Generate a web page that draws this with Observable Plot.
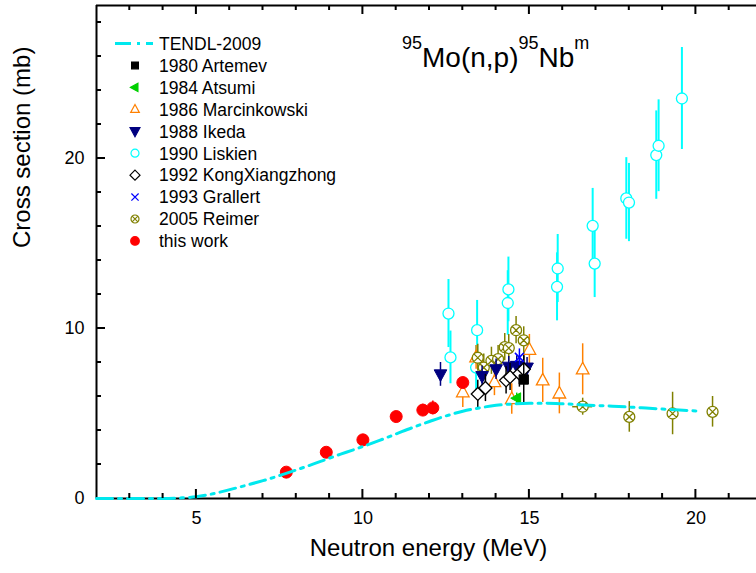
<!DOCTYPE html>
<html><head><meta charset="utf-8">
<script src="https://cdn.jsdelivr.net/npm/d3@7"></script>
<script src="https://cdn.jsdelivr.net/npm/@observablehq/plot@0.6"></script>
<style>
body{margin:0;background:#fff;}
svg{font-family:"Liberation Sans",Arial,sans-serif;}
</style>
</head><body><div id="chart"></div>
<script>
// ---------- data ----------
const tendlE = [2, 3, 4, 4.5, 5, 5.5, 6, 6.5, 7, 7.5, 8, 8.5, 9, 9.5, 10, 10.5, 11, 11.5, 12, 12.5, 13, 13.5, 14, 14.5, 15, 15.5, 16, 16.5, 17, 17.5, 18, 18.5, 19, 19.5, 20];
const tendlS = [0, 0, 0, 0.03, 0.1, 0.28, 0.52, 0.78, 1.05, 1.35, 1.68, 2.02, 2.38, 2.72, 3.06, 3.42, 3.8, 4.18, 4.53, 4.86, 5.13, 5.33, 5.48, 5.56, 5.6, 5.6, 5.57, 5.52, 5.47, 5.43, 5.38, 5.32, 5.26, 5.2, 5.15];

const artemevE = [14.83], artemevS = [7.0], artemevErr = [1.4];
const atsumiE = [14.62], atsumiS = [5.9], atsumiErr = [0.3];
const marcE = [13.0, 13.4, 13.95, 14.47, 15.0, 15.4, 15.9, 16.6];
const marcS = [6.25, 8.3, 6.85, 5.85, 8.75, 6.95, 6.18, 7.6];
const marcErr = [0.9, 0.7, 0.8, 0.9, 0.9, 1.3, 1.2, 1.5];
const ikedaE = [12.33, 13.58, 14.0, 14.38, 14.62, 14.93];
const ikedaS = [7.3, 7.2, 7.6, 7.75, 7.8, 7.7];
const ikedaErr = [0.7, 0.6, 0.6, 0.6, 0.6, 0.6];
const liskienE = [12.57, 12.63, 13.4, 13.43, 14.35, 14.37, 15.83, 15.85, 16.9, 16.96, 17.91, 17.99, 18.81, 18.88, 19.58];
const liskienS = [10.88, 8.3, 7.7, 9.9, 11.5, 12.3, 12.45, 13.53, 16.04, 13.82, 17.65, 17.41, 20.2, 20.75, 23.53];
const liskienErr = [2.0, 1.55, 1.3, 1.75, 1.9, 1.9, 2.0, 2.0, 2.2, 2.0, 2.4, 2.3, 2.6, 2.7, 3.0];
const kongE = [13.45, 13.68, 14.3, 14.42, 14.7, 14.83];
const kongS = [6.15, 6.5, 6.95, 7.15, 7.35, 7.6];
const kongErr = [0.8, 0.8, 0.8, 0.8, 0.8, 0.8];
const grallertE = [14.7], grallertS = [8.3], grallertErr = [0.5];
const reimerE = [13.45, 13.63, 13.86, 14.06, 14.26, 14.38, 14.6, 14.83, 16.6, 18.0, 19.3, 20.5];
const reimerS = [8.28, 7.7, 8.1, 8.2, 8.9, 8.85, 9.9, 9.3, 5.4, 4.8, 5.0, 5.1];
const reimerErr = [0.8, 0.8, 0.8, 0.8, 0.8, 0.8, 0.8, 0.8, 0.5, 0.9, 1.25, 0.9];
const reimerEErr = [0, 0, 0, 0, 0, 0, 0, 0, 0.3, 0, 0, 0];
const thisE = [7.7, 8.9, 10.0, 11.0, 11.8, 12.1, 13.0];
const thisS = [1.55, 2.72, 3.45, 4.82, 5.2, 5.33, 6.82];
const thisErr = [0.15, 0.2, 0.2, 0.25, 0.35, 0.4, 0.3];

const xDomain = [2, 22];
const yDomain = [0, 29];
const xMajor = [5, 10, 15, 20];
const xMinor = [3, 4, 6, 7, 8, 9, 11, 12, 13, 14, 16, 17, 18, 19, 21];
const yMajor = [0, 10, 20];
const yMinor = [2, 4, 6, 8, 12, 14, 16, 18, 22, 24, 26, 28];

const xTitle = "Neutron energy (MeV)";
const yTitle = "Cross section (mb)";
const legendLabels = ["TENDL-2009", "1980 Artemev", "1984 Atsumi", "1986 Marcinkowski", "1988 Ikeda", "1990 Liskien", "1992 KongXiangzhong", "1993 Grallert", "2005 Reimer", "this work"];

// ---------- layout ----------
const W = 756, H = 573, ML = 96, MT = 5, MB = 75;
const xRange = [ML, 762];
const MAJ = 9, MIN = 5; // tick lengths in px

// ---------- helpers ----------
const rows = (E, S, Err, EErr) => E.map((e, i) => ({e, s: S[i], err: Err ? Err[i] : 0, eerr: EErr ? EErr[i] : 0}));
const R = s => Math.sqrt(s / Math.PI);
const symCircle = {draw(c, s){const r = R(s); c.moveTo(r, 0); c.arc(0, 0, r, 0, 2*Math.PI); c.closePath();}};
const symSquare = {draw(c, s){const r = R(s)*0.85; c.moveTo(-r,-r); c.lineTo(r,-r); c.lineTo(r,r); c.lineTo(-r,r); c.closePath();}};
const symUp = {draw(c, s){const r = R(s); c.moveTo(0,-r); c.lineTo(0.9*r,0.65*r); c.lineTo(-0.9*r,0.65*r); c.closePath();}};
const symDown = {draw(c, s){const r = R(s); c.moveTo(0,r); c.lineTo(0.9*r,-0.65*r); c.lineTo(-0.9*r,-0.65*r); c.closePath();}};
const symLeft = {draw(c, s){const r = R(s); c.moveTo(-r,0); c.lineTo(0.65*r,-0.9*r); c.lineTo(0.65*r,0.9*r); c.closePath();}};
const symDiamond = {draw(c, s){const r = R(s); c.moveTo(0,-r); c.lineTo(r,0); c.lineTo(0,r); c.lineTo(-r,0); c.closePath();}};
const symTimes = {draw(c, s){const a = R(s)*0.75; c.moveTo(-a,-a); c.lineTo(a,a); c.moveTo(-a,a); c.lineTo(a,-a);}};
const symCircleX = {draw(c, s){const r = R(s), a = r*0.707; c.moveTo(r,0); c.arc(0,0,r,0,2*Math.PI); c.closePath(); c.moveTo(-a,-a); c.lineTo(a,a); c.moveTo(-a,a); c.lineTo(a,-a);}};

const C = {tendl:"#00e8ee", artemev:"#000000", atsumi:"#00d000", marc:"#ff8000", ikeda:"#000080", liskien:"#00ffff", kong:"#000000", grallert:"#0000ff", reimer:"#808000", thiswork:"#ff0000"};

const dLis = rows(liskienE, liskienS, liskienErr);
const dMarc = rows(marcE, marcS, marcErr);
const dRei = rows(reimerE, reimerS, reimerErr, reimerEErr);
const dIke = rows(ikedaE, ikedaS, ikedaErr);
const dKong = rows(kongE, kongS, kongErr);
const dArt = rows(artemevE, artemevS, artemevErr);
const dAts = rows(atsumiE, atsumiS, atsumiErr);
const dGra = rows(grallertE, grallertS, grallertErr);
const dThis = rows(thisE, thisS, thisErr);
const dTendl = tendlE.map((e, i) => ({e, s: tendlS[i]}));

const errBars = (d, stroke, w=1.5) => Plot.ruleX(d, {x: "e", y1: r => r.s - r.err, y2: r => r.s + r.err, stroke, strokeWidth: w});
const dots = (d, symbol, r, stroke, fill, w=1.3) => Plot.dot(d, {x: "e", y: "s", symbol, r, stroke, fill, strokeWidth: w});

const plot = Plot.plot({
  width: W, height: H,
  marginLeft: ML, marginRight: 0, marginTop: MT, marginBottom: MB,
  x: {domain: xDomain, range: xRange},
  y: {domain: yDomain},
  style: {fontFamily: '"Liberation Sans", Arial, sans-serif', fontSize: "18px", background: "white", color: "black"},
  marks: [
    errBars(dLis, C.liskien, 2),
    dots(dLis, symCircle, 5.5, C.liskien, "white", 1.3),
    errBars(dMarc, C.marc),
    dots(dMarc, symUp, 7, C.marc, "white", 1.3),
    errBars(dRei, C.reimer),
    Plot.ruleY(dRei.filter(r => r.eerr > 0), {y: "s", x1: r => r.e - r.eerr, x2: r => r.e + r.eerr, stroke: C.reimer, strokeWidth: 1.5}),
    dots(dRei, symCircleX, 5.5, C.reimer, "white", 1.3),
    errBars(dIke, C.ikeda),
    dots(dIke, symDown, 7, C.ikeda, C.ikeda, 1),
    errBars(dKong, C.kong),
    dots(dKong, symDiamond, 6.5, C.kong, "white", 1.3),
    errBars(dArt, C.artemev),
    dots(dArt, symSquare, 5.5, C.artemev, C.artemev, 1),
    errBars(dAts, C.atsumi),
    dots(dAts, symLeft, 6, C.atsumi, C.atsumi, 1),
    errBars(dGra, C.grallert),
    dots(dGra, symTimes, 6, C.grallert, "none", 1.5),
    errBars(dThis, C.thiswork),
    dots(dThis, symCircle, 6, C.thiswork, C.thiswork, 1),
    // frame
    Plot.ruleX([xDomain[0]], {stroke: "black", strokeWidth: 2}),
    Plot.ruleY([yDomain[0]], {stroke: "black", strokeWidth: 2}),
    Plot.ruleY([yDomain[1]], {stroke: "black", strokeWidth: 2}),
    Plot.line(dTendl, {x: "e", y: "s", stroke: C.tendl, strokeWidth: 3, strokeDasharray: "16,6,3,6", curve: "monotone-x"}),
    Plot.axisX(xMajor, {tickSize: 0, tickPadding: 13, fontSize: 18, label: null}),
    Plot.axisY(yMajor, {tickSize: 0, tickPadding: 12, fontSize: 18, label: null}),
    Plot.text([xTitle], {text: d => d, frameAnchor: "bottom", dy: 57, dx: 2, fontSize: 24}),
    Plot.text([yTitle], {text: d => d, frameAnchor: "left", rotate: -90, dx: -74, dy: -4, fontSize: 24})
  ]
});

const svg = d3.select(plot);
const sx = plot.scale("x"), sy = plot.scale("y");
const X = v => sx.apply(v), Y = v => sy.apply(v);

// ---------- title with superscripts ----------
const t = svg.append("text").attr("x", 402).attr("y", 67).attr("font-size", 28)
  .attr("fill", "black").attr("text-anchor", "start");
const parts = [["95", true], ["Mo(n,p)", false], ["95", true], ["Nb", false], ["m", true]];
let up = false;
for (const [txt, sup] of parts) {
  const ts = t.append("tspan").text(txt);
  if (sup) { ts.attr("font-size", 18); if (!up) ts.attr("dy", -18); up = true; }
  else { if (up) ts.attr("dy", 18); up = false; }
}

// ---------- legend ----------
const lg = svg.append("g").attr("text-anchor", "start");
const legendSyms = [null, [symSquare, 4, C.artemev, C.artemev], [symLeft, 4.5, C.atsumi, C.atsumi], [symUp, 4.8, C.marc, "white"], [symDown, 5.5, C.ikeda, C.ikeda], [symCircle, 4, C.liskien, "white"], [symDiamond, 5, C.kong, "white"], [symTimes, 4.8, C.grallert, "none"], [symCircleX, 4, C.reimer, "white"], [symCircle, 4.3, C.thiswork, C.thiswork]];
legendLabels.forEach((lab, i) => {
  const cy = 43.5 + i * 21.94;
  if (i === 0) {
    lg.append("line").attr("x1", 115).attr("x2", 153).attr("y1", cy).attr("y2", cy)
      .attr("stroke", C.tendl).attr("stroke-width", 3).attr("stroke-dasharray", "16,6,3,6");
  } else {
    const [sym, r, st, fi] = legendSyms[i];
    lg.append("path").attr("transform", `translate(135,${cy})`)
      .attr("d", d3.symbol(sym, r * r * Math.PI)())
      .attr("stroke", st).attr("fill", fi).attr("stroke-width", 1.2);
  }
  lg.append("text").attr("x", 159).attr("y", cy + 6.3).attr("font-size", 17.5)
    .attr("fill", "black").attr("text-anchor", "start").text(lab);
});

// ---------- inward ticks, positioned through the plot's scales (drawn last) ----------
const tg = svg.append("g").attr("stroke", "#000").attr("stroke-width", 2).attr("fill", "none");
const y0 = Y(yDomain[0]), y1 = Y(yDomain[1]), x0 = X(xDomain[0]);
let dPath = "";
for (const [vals, len] of [[xMajor, MAJ], [xMinor, MIN]]) {
  for (const v of vals) {
    const xv = X(v);
    dPath += `M${xv},${y0}V${y0 - len}M${xv},${y1}V${y1 + len}`;
  }
}
for (const [vals, len] of [[yMajor.filter(v => v > 0), MAJ], [yMinor, MIN]]) {
  for (const v of vals) dPath += `M${x0},${Y(v)}H${x0 + len}`;
}
tg.append("path").attr("d", dPath);

document.getElementById("chart").appendChild(plot);
</script>
</body></html>
